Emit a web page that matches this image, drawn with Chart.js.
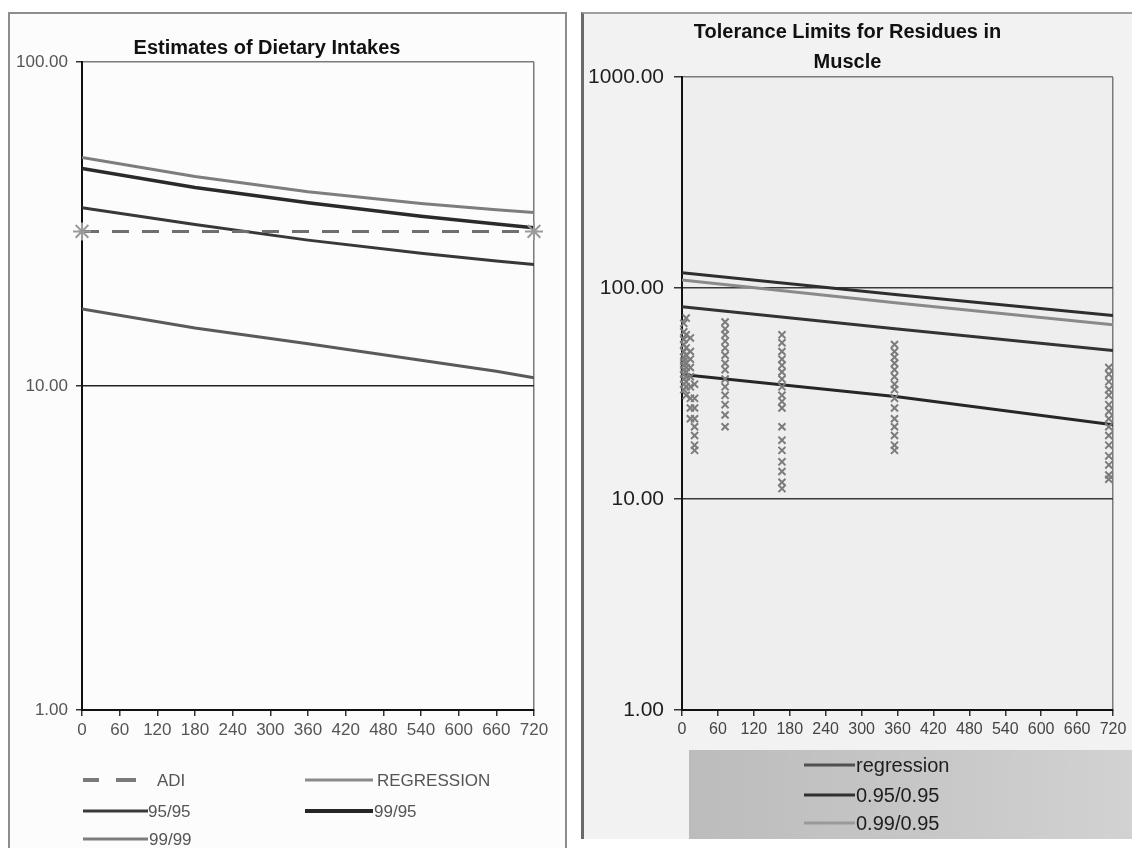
<!DOCTYPE html>
<html>
<head>
<meta charset="utf-8">
<script src="https://cdn.jsdelivr.net/npm/chart.js@4.4.1/dist/chart.umd.min.js"></script>
<style>
  html, body { margin: 0; padding: 0; width: 1132px; height: 848px; overflow: hidden; background: #fff;
    font-family: "Liberation Sans", Arial, sans-serif; }
  .panel { position: absolute; box-sizing: border-box; }
  #leftPanel { left: 8px; top: 12px; width: 559px; height: 850px; border: 2px solid #8d8d8d; background: #fcfcfc; }
  #rightPanel { left: 581px; top: 12px; width: 600px; height: 827px; border-left: 3px solid #6a6a6a;
    border-top: 2px solid #a0a0a0; background: #f2f2f2; }
  #rightLegendBox { position: absolute; left: 689px; top: 750px; width: 443px; height: 89px;
    background: linear-gradient(90deg, #bcbcbc 0%, #c6c6c6 50%, #d2d2d2 100%); }
  canvas { position: absolute; top: 0; }
  #dietChart { left: 0; }
  #muscleChart { left: 582px; }
  .lg { position: absolute; height: 0; }
  .lg .sw { position: absolute; top: 0; transform: translateY(-50%); }
  .lg .tx { position: absolute; top: 0; transform: translateY(-50%); white-space: nowrap; line-height: 1; }
  .left .tx { font-size: 17px; color: #555; }
  .right .tx { font-size: 20px; color: #1e1e1e; }
</style>
</head>
<body>
<div class="panel" id="leftPanel"></div>
<div class="panel" id="rightPanel"></div>
<div id="rightLegendBox"></div>
<canvas id="dietChart" width="570" height="848"></canvas>
<canvas id="muscleChart" width="590" height="848"></canvas>

<!-- legend for the dietary intake chart -->
<div class="lg left" style="left:0;top:780px;">
  <span class="sw" style="left:83px;width:16px;border-top:4px solid #7a7a7a;"></span>
  <span class="sw" style="left:116px;width:20px;border-top:4px solid #7a7a7a;"></span>
  <span class="tx" style="left:157px;">ADI</span>
</div>
<div class="lg left" style="left:0;top:780px;">
  <span class="sw" style="left:305px;width:68px;border-top:3px solid #8a8a8a;"></span>
  <span class="tx" style="left:377px;">REGRESSION</span>
</div>
<div class="lg left" style="left:0;top:811px;">
  <span class="sw" style="left:83px;width:65px;border-top:3px solid #3a3a3a;"></span>
  <span class="tx" style="left:148px;">95/95</span>
</div>
<div class="lg left" style="left:0;top:811px;">
  <span class="sw" style="left:305px;width:68px;border-top:4px solid #262626;"></span>
  <span class="tx" style="left:374px;">99/95</span>
</div>
<div class="lg left" style="left:0;top:839px;">
  <span class="sw" style="left:83px;width:65px;border-top:3px solid #7d7d7d;"></span>
  <span class="tx" style="left:149px;">99/99</span>
</div>

<!-- legend for the muscle residue chart -->
<div class="lg right" style="left:0;top:765px;">
  <span class="sw" style="left:804px;width:51px;border-top:3px solid #505050;"></span>
  <span class="tx" style="left:856px;">regression</span>
</div>
<div class="lg right" style="left:0;top:795px;">
  <span class="sw" style="left:804px;width:51px;border-top:3px solid #303030;"></span>
  <span class="tx" style="left:856px;">0.95/0.95</span>
</div>
<div class="lg right" style="left:0;top:823px;">
  <span class="sw" style="left:804px;width:51px;border-top:3px solid #9a9a9a;"></span>
  <span class="tx" style="left:856px;">0.99/0.95</span>
</div>

<script>
// ---- Dietary intake estimates (days vs. intake, log scale) ----
const dietDays   = [0, 180, 360, 540, 660, 720];
const adiDays    = [0, 720];
const adiValues  = [30, 30];
const dietRegression = [17.3, 15.1, 13.5, 12.0, 11.1, 10.6];
const diet95_95      = [35.5, 31.5, 28.2, 25.7, 24.3, 23.7];
const diet99_95      = [46.9, 41.0, 36.8, 33.4, 31.6, 30.8];
const diet99_99      = [50.7, 44.3, 39.8, 36.6, 35.0, 34.3];
const dietTicks      = [1, 10, 100];

// ---- Tolerance limits for residues in muscle ----
const muscleDays       = [0, 360, 720];
const muscleRegression = [38.9, 30.5, 22.5];
const muscle95_95      = [81.6, 64.0, 50.5];
const muscle99_95      = [109, 85, 67];
const muscle99_99      = [118, 93, 74];
const muscleTicks      = [1, 10, 100, 1000];

// residue measurements, grouped by sampling day
const sampleDays = [3, 7, 14, 21, 72, 167, 355, 713];
const sampleValues = [
  [68, 62, 57, 54, 50, 47, 45, 43, 41, 39, 37, 35, 33],
  [72, 60, 52, 48, 44, 42, 40, 38, 36, 34, 31],
  [58, 50, 46, 42, 38, 34, 30, 27, 24],
  [35, 30, 27, 24, 22, 20, 18, 17],
  [69, 64, 60, 56, 52, 48, 44, 41, 37, 34, 31, 28, 25, 22],
  [60, 55, 50, 46, 43, 40, 37, 34, 31, 29, 27, 22, 19, 17, 15, 13.5, 12, 11.2],
  [54, 50, 47, 44, 41, 38, 35, 33, 30, 27, 24, 22, 20, 18, 17],
  [42, 39, 36, 33, 31, 28, 26, 24, 22, 20, 18, 16, 14.5, 13, 12.4]
];

const xTickValues = [0, 60, 120, 180, 240, 300, 360, 420, 480, 540, 600, 660, 720];

Chart.defaults.font.family = '"Liberation Sans", Arial, sans-serif';
Chart.defaults.animation = false;

const pairs = (xs, ys) => xs.map((x, i) => ({ x, y: ys[i] }));

function lineSet(label, xs, ys, color, width) {
  return { label, data: pairs(xs, ys), borderColor: color, borderWidth: width,
           pointRadius: 0, fill: false, tension: 0, showLine: true };
}

function fixedWidth(w) { return (s) => { s.width = w; }; }
function fixedHeight(h) { return (s) => { s.height = h; }; }

function decadeTicks(values) {
  return (scale) => { scale.ticks = values.map(v => ({ value: v })); };
}

const plotBackground = {
  id: 'plotBackground',
  beforeDraw(chart, args, opts) {
    if (!opts.color) return;
    const { ctx, chartArea: a } = chart;
    ctx.save();
    ctx.fillStyle = opts.color;
    ctx.fillRect(a.left, a.top, a.right - a.left, a.bottom - a.top);
    ctx.restore();
  }
};

function xScale(fontSize, color, pad) {
  return {
    type: 'linear', min: 0, max: 720,
    afterBuildTicks: (s) => { s.ticks = xTickValues.map(v => ({ value: v })); },
    afterFit: fixedHeight(40),
    ticks: { autoSkip: false, maxRotation: 0, padding: pad, color, font: { size: fontSize } },
    grid: {
      drawOnChartArea: true, tickLength: 6, tickColor: '#333', lineWidth: 1.5,
      color: (c) => (c.tick && c.tick.value === 720) ? '#7a7a7a' : 'rgba(0,0,0,0)'
    },
    border: { display: true, color: '#111', width: 2 }
  };
}

// Dietary intake chart
new Chart(document.getElementById('dietChart'), {
  type: 'scatter',
  data: {
    datasets: [
      { label: 'ADI', data: pairs(adiDays, adiValues), showLine: true, borderColor: '#6f6f6f',
        borderWidth: 3, borderDash: [17, 13], pointStyle: 'star', pointRadius: 9, clip: false,
        pointBorderColor: '#9a9a9a', pointBorderWidth: 2, pointBackgroundColor: '#9a9a9a' },
      lineSet('REGRESSION', dietDays, dietRegression, '#5a5a5a', 3),
      lineSet('95/95', dietDays, diet95_95, '#383838', 3),
      lineSet('99/95', dietDays, diet99_95, '#2a2a2a', 3.5),
      lineSet('99/99', dietDays, diet99_99, '#7d7d7d', 3)
    ]
  },
  options: {
    responsive: false,
    layout: { padding: { left: 0, right: 36, top: 0, bottom: 98 } },
    plugins: {
      legend: { display: false },
      tooltip: { enabled: false },
      title: { display: true, text: 'Estimates of Dietary Intakes', color: '#111',
               font: { size: 20, weight: 'bold', lineHeight: 1.2 }, padding: { top: 36, bottom: 2 } }
    },
    scales: {
      x: xScale(17, '#555', 4),
      y: {
        type: 'logarithmic', min: 1, max: 100,
        afterBuildTicks: decadeTicks(dietTicks),
        afterFit: fixedWidth(82),
        ticks: { callback: (v) => Number(v).toFixed(2), color: '#555', font: { size: 17 }, padding: 8 },
        grid: { tickLength: 6, tickColor: '#333', lineWidth: 1.5,
                color: (c) => c.tick.value === 10 ? '#222' : (c.tick.value === 100 ? '#7a7a7a' : 'rgba(0,0,0,0)') },
        border: { display: true, color: '#111', width: 2 }
      }
    }
  }
});

// Muscle residue chart
const sampleData = [];
sampleDays.forEach((d, i) => sampleValues[i].forEach(v => sampleData.push({ x: d, y: v })));

new Chart(document.getElementById('muscleChart'), {
  type: 'scatter',
  data: {
    datasets: [
      { label: 'residues', data: sampleData, showLine: false, pointStyle: 'crossRot', pointRadius: 5,
        clip: false, pointBorderColor: '#7c7c7c', pointBorderWidth: 2 },
      lineSet('regression', muscleDays, muscleRegression, '#262626', 3),
      lineSet('0.95/0.95', muscleDays, muscle95_95, '#333333', 3),
      lineSet('0.99/0.95', muscleDays, muscle99_95, '#8a8a8a', 3),
      lineSet('0.99/0.99', muscleDays, muscle99_99, '#2e2e2e', 3)
    ]
  },
  options: {
    responsive: false,
    layout: { padding: { left: 0, right: 59, top: 0, bottom: 98 } },
    plugins: {
      legend: { display: false },
      tooltip: { enabled: false },
      plotBackground: { color: '#eeeeee' },
      title: { display: true, text: ['Tolerance Limits for Residues in', 'Muscle'], color: '#111',
               font: { size: 20, weight: 'bold', lineHeight: 1.5 }, padding: { top: 17, bottom: 0 } }
    },
    scales: {
      x: xScale(16, '#444', 4),
      y: {
        type: 'logarithmic', min: 1, max: 1000,
        afterBuildTicks: decadeTicks(muscleTicks),
        afterFit: fixedWidth(100),
        ticks: { callback: (v) => Number(v).toFixed(2), color: '#1e1e1e', font: { size: 21 }, padding: 10 },
        grid: { tickLength: 8, tickColor: '#333', lineWidth: 1.5,
                color: (c) => c.tick.value === 1 ? 'rgba(0,0,0,0)' : (c.tick.value === 1000 ? '#7a7a7a' : '#3a3a3a') },
        border: { display: true, color: '#111', width: 2 }
      }
    }
  },
  plugins: [plotBackground]
});
</script>
</body>
</html>
